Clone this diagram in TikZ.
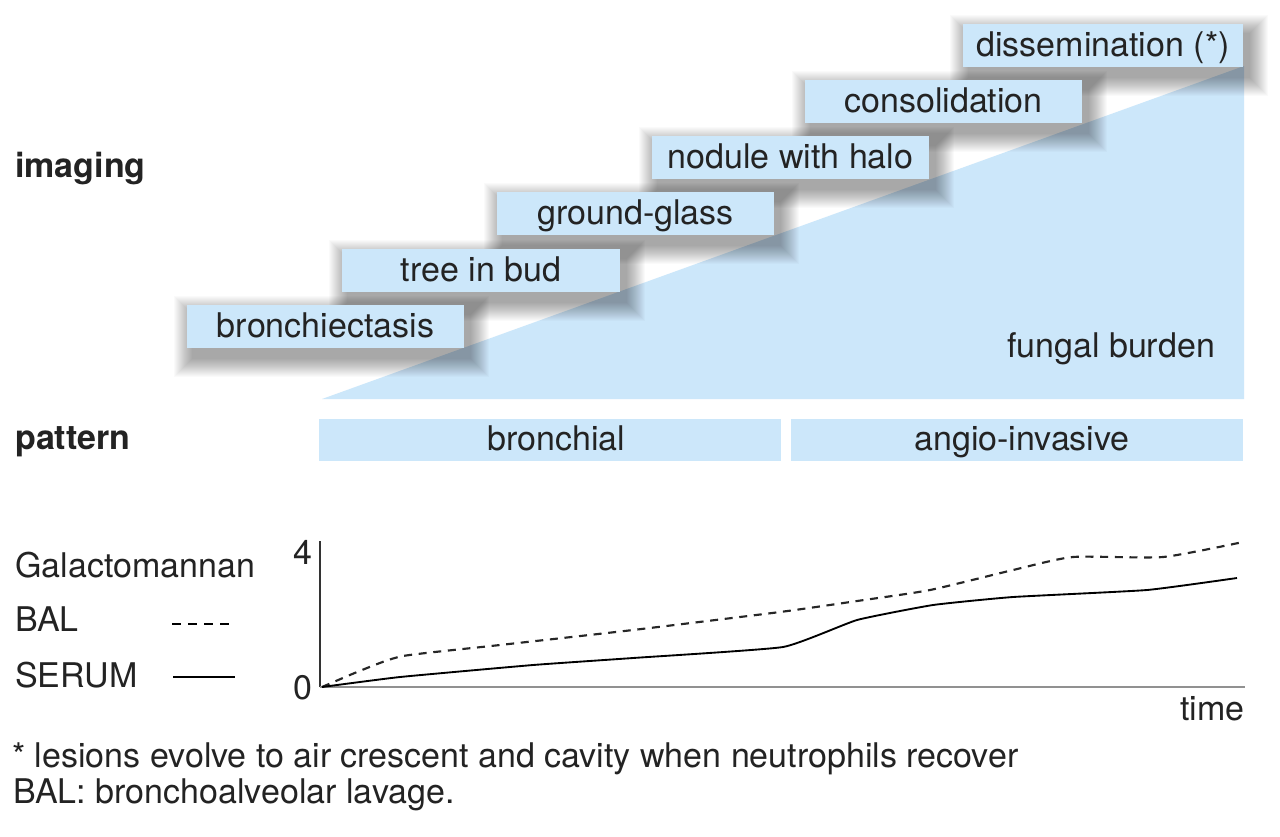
\documentclass[tikz,border=0pt]{standalone}
\usepackage{fontspec}
\setmainfont{TeX Gyre Heros}
\definecolor{boxblue}{RGB}{204,231,250}
\definecolor{txt}{RGB}{35,35,35}
\definecolor{axisgray}{RGB}{145,145,145}
\pgfdeclarelayer{wedge}
\pgfdeclarelayer{shad}
\pgfsetlayers{wedge,shad,main}
\tikzset{
  imgbox/.style={fill=boxblue, draw=none, minimum width=208pt, minimum height=32.25pt,
    inner sep=0pt, text height=15.75pt, text depth=0pt},
  patbox/.style={fill=boxblue, draw=none, minimum height=31.5pt, inner sep=0pt,
    text height=15pt, text depth=0pt},
  lbl/.style={anchor=base west, inner sep=0pt},
  hdr/.style={anchor=base west, inner sep=0pt, font=\fontsize{25.5}{30}\selectfont\bfseries},
  serum/.style={draw=black, line width=1.4pt, line join=round},
  bal/.style={draw=black!85, line width=1.6pt, dash pattern=on 6pt off 5pt},
  shadlayer/.style={fill=black, opacity=0.02},
}
\begin{document}
\begin{tikzpicture}[x=0.75pt, y=-0.75pt, font=\fontsize{25.5}{30}\selectfont, text=txt]
\useasboundingbox (0,0) rectangle (1280,836);

% background and fungal burden wedge
\begin{pgfonlayer}{wedge}
\fill[white] (0,0) rectangle (1280,836);
\fill[boxblue] (322,399) -- (1244,399) -- (1244,66) -- cycle;
\end{pgfonlayer}

% imaging boxes
\node[imgbox, minimum width=210pt] (b6) at (1103,45.5) {dissemination (*)};
\node[imgbox] (b5) at (943.5,101.5) {consolidation};
\node[imgbox] (b4) at (790.5,157.5) {nodule with halo};
\node[imgbox] (b3) at (635.5,213.5) {ground-glass};
\node[imgbox] (b2) at (481,270.5) {tree in bud};
\node[imgbox] (b1) at (325.5,326.5) {bronchiectasis};

% soft drop shadows
\begin{pgfonlayer}{shad}
\foreach \n in {b1,b2,b3,b4,b5,b6}{
  \foreach \r in {1,...,19}{
    \fill[shadlayer] ([shift={(6-\r,10-\r)}]\n.north west) rectangle ([shift={(6+\r,10+\r)}]\n.south east);
  }
}
\end{pgfonlayer}

\node[lbl] (fb) at (1007,357) {fungal burden};

\node[hdr] (imaging) at (15,177) {imaging};
\node[hdr] (pattern) at (15,449) {pattern};

% pattern boxes
\node[patbox, minimum width=346.5pt] (p1) at (550,440) {\hspace*{9.75pt}bronchial};
\node[patbox, minimum width=339pt] (p2) at (1017,440) {\hspace*{7.5pt}angio-invasive};

% graph axes
\coordinate (o) at (320,687);
\coordinate (ytop) at (320,541);
\coordinate (xend) at (1245,687);
\draw[black!80, line width=0.9pt] (o) -- (ytop);
\draw[axisgray, line width=1.6pt] (o) -- (xend);
\node[anchor=east, inner sep=0pt] (four) at (313,552) {4};
\node[anchor=east, inner sep=0pt] (zero) at (313,688) {0};
\node[anchor=base east, inner sep=0pt] (time) at (1245,720) {time};

% curves
\draw[bal] plot[smooth, tension=0.35] coordinates {(322,687) (362,670) (403,656) (500,645) (633,630) (780,612) (857,601) (930,590) (1013,570) (1073,557) (1163,557) (1243,542)};
\draw[serum] plot[smooth, tension=0.25] coordinates {(322,687) (400,677) (533,665) (633,658) (783,647) (857,620) (933,605) (1013,597) (1147,590) (1237,578)};

% legend
\node[lbl] (gm) at (15,577) {Galactomannan};
\node[lbl] (bal) at (15,631) {BAL};
\node[lbl] (ser) at (15,687) {SERUM};
\coordinate (bal1) at (172,624);
\coordinate (bal2) at (233,624);
\coordinate (ser1) at (173,677);
\coordinate (ser2) at (235,677);
\draw[black, line width=1.1pt, dash pattern=on 6.5pt off 5.5pt] (bal1) -- (bal2);
\draw[black, line width=1.2pt] (ser1) -- (ser2);

% footnotes
\node[lbl] (fn1) at (12,767) {* lesions evolve to air crescent and cavity when neutrophils recover};
\node[lbl] (fn2) at (13,803) {BAL: bronchoalveolar lavage.};
\end{tikzpicture}
\end{document}
